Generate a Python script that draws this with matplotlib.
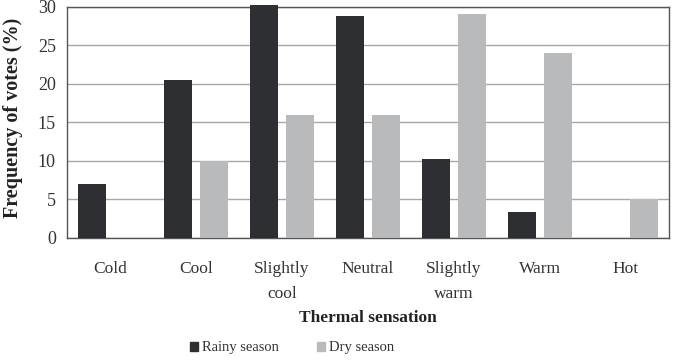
import matplotlib
matplotlib.use("Agg")
import matplotlib.pyplot as plt
import numpy as np
from matplotlib.patches import Patch

categories = ["Cold", "Cool", "Slightly\ncool", "Neutral", "Slightly\nwarm", "Warm", "Hot"]
rainy = [7.0, 20.5, 30.2, 28.8, 10.2, 3.3, 0.0]
dry = [0.0, 10.0, 16.0, 16.0, 29.0, 24.0, 5.0]
yticks = [0, 5, 10, 15, 20, 25, 30]
series_names = ["Rainy season", "Dry season"]

dark = "#2e2f33"
light = "#b9babb"

plt.rcParams['font.family'] = ['Liberation Serif', 'DejaVu Serif']

fig = plt.figure(figsize=(6.76, 3.62), dpi=100)
ax = fig.add_axes([67/676, (362-237.7)/362, (669-67)/676, (237.7-6.7)/362])

x = np.arange(len(categories))
w = 0.326
off = 0.21
ax.bar(x - off, rainy, width=w, color=dark, zorder=3, clip_on=False)
ax.bar(x + off, dry, width=w, color=light, zorder=3, clip_on=False)

ax.set_xlim(-0.5, len(categories) - 0.5)
ax.set_ylim(0, 30)
ax.set_yticks(yticks)
ax.set_yticklabels([str(v) for v in yticks], fontsize=13, color="#333333")
ax.set_xticks(x)
ax.set_xticklabels(categories, fontsize=12.5, color="#333333", linespacing=1.75)
ax.tick_params(length=0, pad=8)
ax.tick_params(axis='x', pad=17)
ax.yaxis.grid(True, color="#a8a8a8", linewidth=1.0, zorder=0)
ax.set_axisbelow(True)
for s in ax.spines.values():
    s.set_color("#555555")
    s.set_linewidth(1.0)

fig.text(368/676, 1 - 318/362, "Thermal sensation", ha="center", va="center",
         fontsize=12.5, fontweight="bold", color="#222222")
fig.text(13/676, 1 - 118/362, "Frequency of votes (%)", ha="center", va="center",
         rotation=90, fontsize=14.5, fontweight="bold", color="#222222")

handles = [Patch(color=dark), Patch(color=light)]
fig.legend(handles, series_names, loc="center", bbox_to_anchor=(292/676, 1 - 348/362),
           ncol=2, frameon=False, fontsize=10.5, handlelength=0.55, handleheight=0.55,
           handletextpad=0.3, columnspacing=2.6, labelcolor="#333333")

fig.savefig("out.png", dpi=100)
